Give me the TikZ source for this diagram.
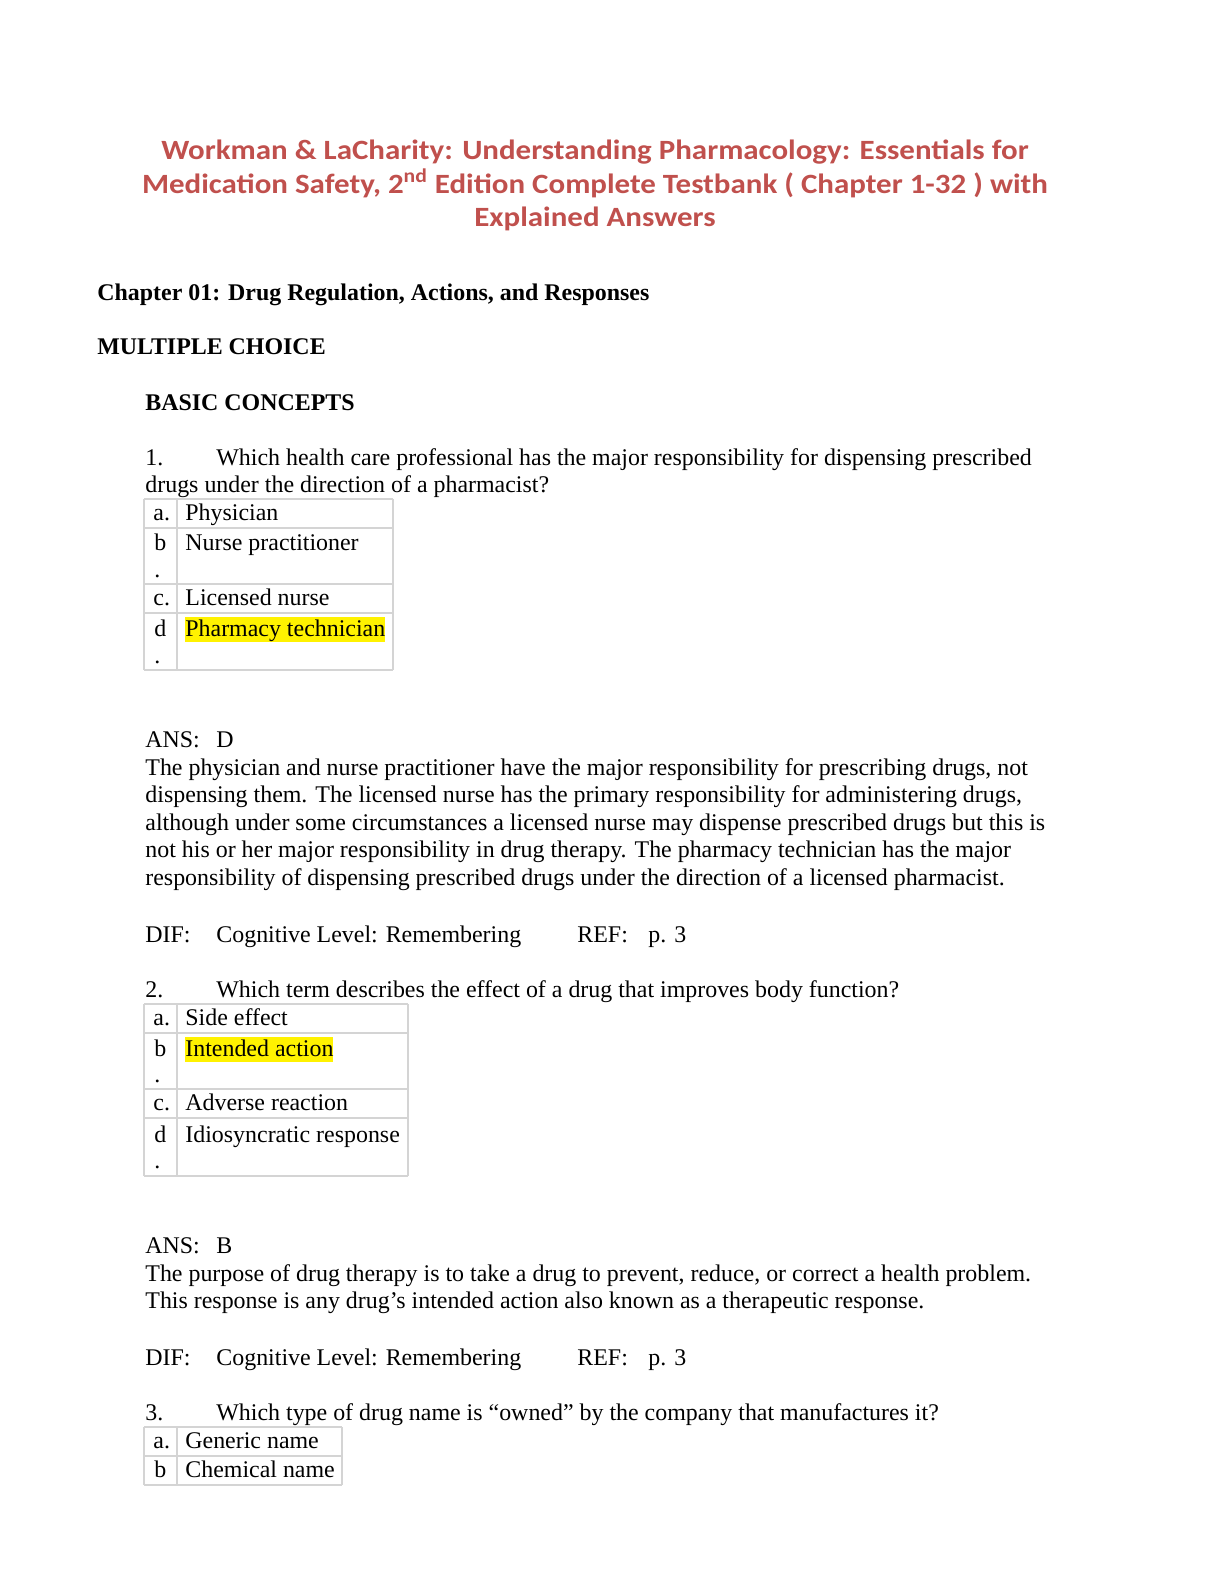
\documentclass[tikz,border=0pt]{standalone}
\usepackage{fontspec}
\setmainfont{Liberation Serif}
\newfontfamily\headfont{Carlito}[FakeStretch=1.11]
\definecolor{headred}{RGB}{192,80,77}
\definecolor{rulegray}{RGB}{212,212,212}
\tikzset{
  txt/.style={anchor=base west, inner sep=0pt, font=\fontsize{12}{14}\selectfont},
  bold/.style={txt, font=\fontsize{12}{14}\selectfont\bfseries},
  head/.style={anchor=base, inner sep=0pt, text=headred, font=\fontsize{14}{16}\selectfont\headfont\bfseries},
  cell/.style={draw=rulegray, line width=1.2bp},
  hilite/.style={txt, fill=yellow, text height=9.6pt, text depth=3pt}
}
\begin{document}
\begin{tikzpicture}[x=0.5bp, y=-0.5bp]
	\useasboundingbox (0,0) rectangle (1224,1584);
	% title
	\node[head] (t1) at (595,159) {Workman \& LaCharity: Understanding Pharmacology: Essentials for};
	\node[head] (t2) at (595,193) {Medication Safety, 2\textsuperscript{nd} Edition Complete Testbank ( Chapter 1-32 ) with};
	\node[head] (t3) at (595,226) {Explained Answers};
	\node[bold] (chap) at (97,300) {Chapter 01: Drug Regulation, Actions, and Responses};
	\node[bold] (mc) at (97,354) {MULTIPLE CHOICE};
	\node[bold] (basic) at (145,410) {BASIC CONCEPTS};
	% question 1
	\node[txt] (n1) at (145,465) {1.};
	\node[txt] (q1a) at (216,465) {Which health care professional has the major responsibility for dispensing prescribed};
	\node[txt] (q1b) at (145,492) {drugs under the direction of a pharmacist?};
	\foreach \y in {499,528,584,613,670} \draw[cell] (144,\y) -- (393,\y);
	\foreach \x in {144,177,393} \draw[cell] (\x,499) -- (\x,670);
	\node[txt] (a1) at (153,520) {a.};
	\node[txt] (a1t) at (185,520) {Physician};
	\node[txt] (b1) at (154,550) {b};
	\node[txt] (b1d) at (154,577) {.};
	\node[txt] (b1t) at (185,550) {Nurse practitioner};
	\node[txt] (c1) at (153,605) {c.};
	\node[txt] (c1t) at (185,605) {Licensed nurse};
	\node[txt] (d1) at (154,636) {d};
	\node[txt] (d1d) at (154,663) {.};
	\node[hilite] (d1t) at (185,636) {Pharmacy technician};
	\node[txt] (ans1) at (145,747) {ANS:};
	\node[txt] (ans1v) at (216,747) {D};
	\node[txt] (r1a) at (145,775) {The physician and nurse practitioner have the major responsibility for prescribing drugs, not};
	\node[txt] (r1b) at (145,802) {dispensing them. The licensed nurse has the primary responsibility for administering drugs,};
	\node[txt] (r1c) at (145,830) {although under some circumstances a licensed nurse may dispense prescribed drugs but this is};
	\node[txt] (r1d) at (145,857) {not his or her major responsibility in drug therapy. The pharmacy technician has the major};
	\node[txt] (r1e) at (145,885) {responsibility of dispensing prescribed drugs under the direction of a licensed pharmacist.};
	\node[txt] (dif1) at (145,942) {DIF:};
	\node[txt] (dif1v) at (216,942) {Cognitive Level: Remembering};
	\node[txt] (ref1) at (577,942) {REF:};
	\node[txt] (ref1v) at (648,942) {p. 3};
	% question 2
	\node[txt] (n2) at (145,997) {2.};
	\node[txt] (q2a) at (216,997) {Which term describes the effect of a drug that improves body function?};
	\foreach \y in {1004,1033,1089,1118,1176} \draw[cell] (144,\y) -- (408,\y);
	\foreach \x in {144,177,408} \draw[cell] (\x,1004) -- (\x,1176);
	\node[txt] (a2) at (153,1025) {a.};
	\node[txt] (a2t) at (185,1025) {Side effect};
	\node[txt] (b2) at (154,1056) {b};
	\node[txt] (b2d) at (154,1082) {.};
	\node[hilite] (b2t) at (185,1056) {Intended action};
	\node[txt] (c2) at (153,1110) {c.};
	\node[txt] (c2t) at (185,1110) {Adverse reaction};
	\node[txt] (d2) at (154,1142) {d};
	\node[txt] (d2d) at (154,1168) {.};
	\node[txt] (d2t) at (185,1142) {Idiosyncratic response};
	\node[txt] (ans2) at (145,1253) {ANS:};
	\node[txt] (ans2v) at (216,1253) {B};
	\node[txt] (r2a) at (145,1281) {The purpose of drug therapy is to take a drug to prevent, reduce, or correct a health problem.};
	\node[txt] (r2b) at (145,1308) {This response is any drug’s intended action also known as a therapeutic response.};
	\node[txt] (dif2) at (145,1365) {DIF:};
	\node[txt] (dif2v) at (216,1365) {Cognitive Level: Remembering};
	\node[txt] (ref2) at (577,1365) {REF:};
	\node[txt] (ref2v) at (648,1365) {p. 3};
	% question 3
	\node[txt] (n3) at (145,1420) {3.};
	\node[txt] (q3a) at (216,1420) {Which type of drug name is “owned” by the company that manufactures it?};
	\foreach \y in {1427,1456,1485} \draw[cell] (144,\y) -- (342,\y);
	\foreach \x in {144,177,342} \draw[cell] (\x,1427) -- (\x,1485);
	\node[txt] (a3) at (153,1448) {a.};
	\node[txt] (a3t) at (185,1448) {Generic name};
	\node[txt] (b3) at (154,1477) {b};
	\node[txt] (b3t) at (185,1477) {Chemical name};
\end{tikzpicture}
\end{document}
